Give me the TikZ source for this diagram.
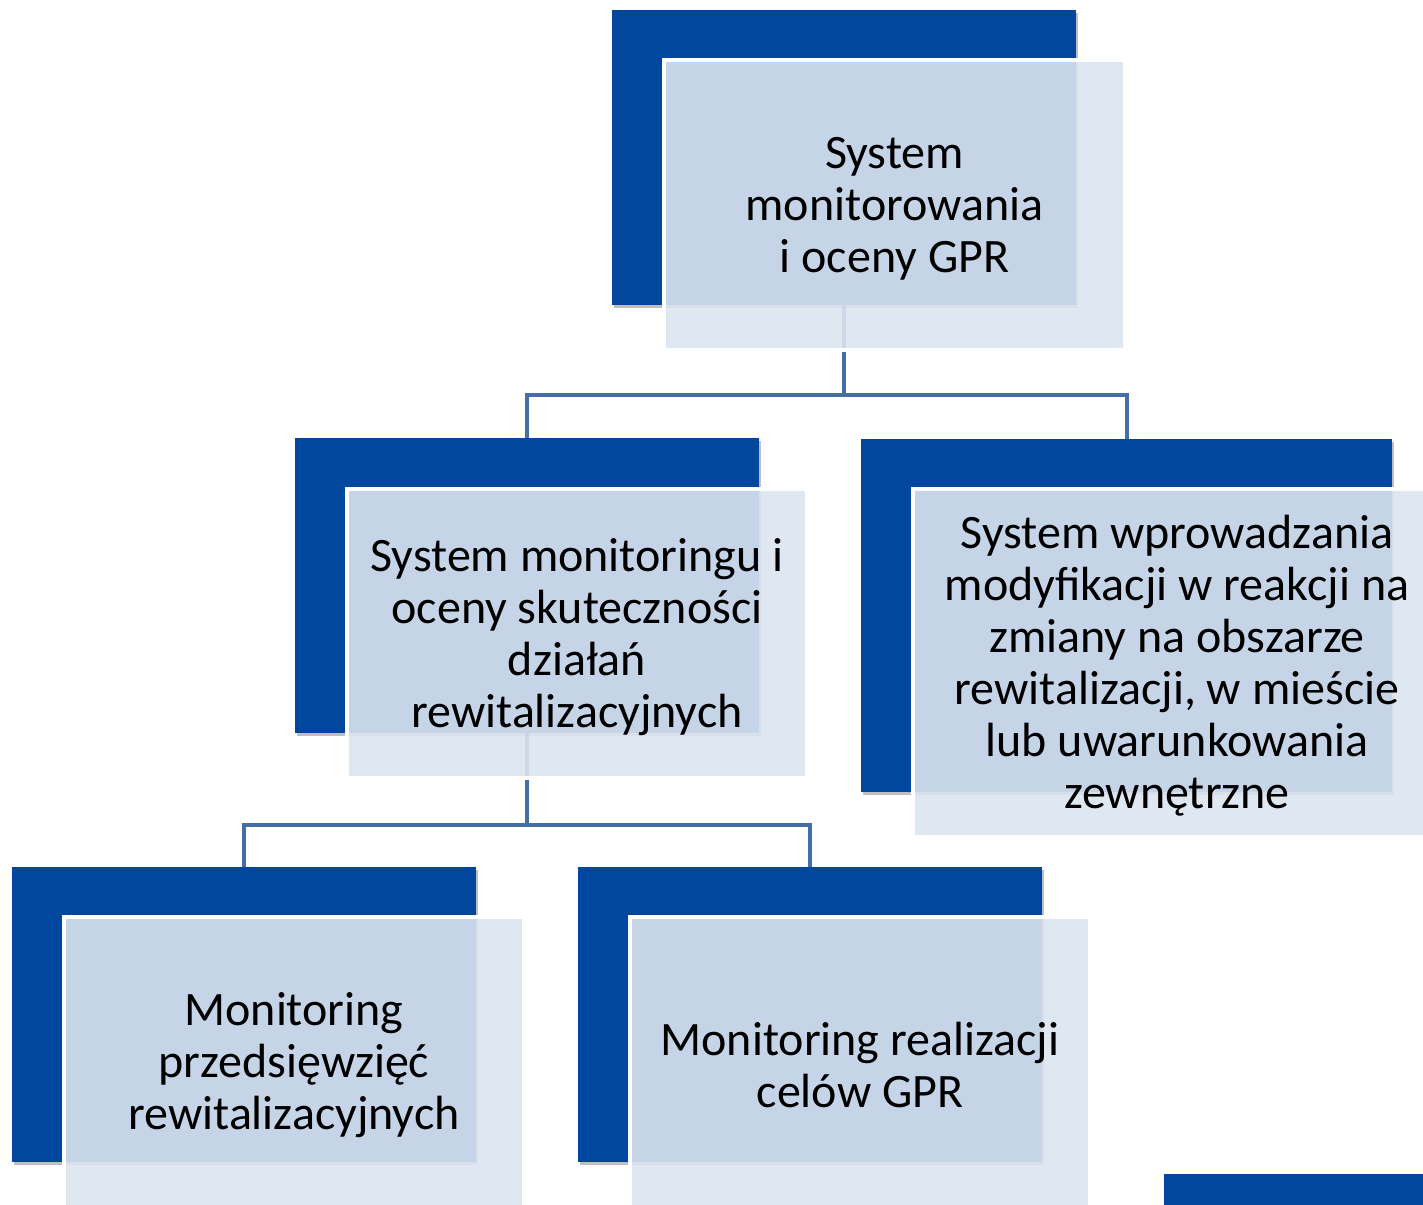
\documentclass[tikz,border=0pt]{standalone}
\usepackage{fontspec}
\setmainfont{Carlito}
\usetikzlibrary{shadows}
\definecolor{darkblue}{RGB}{0,71,157}
\definecolor{lightbox}{RGB}{220,228,240}
\definecolor{connblue}{RGB}{68,110,165}
\newcommand\firstln{\rule{0pt}{29.5pt}}
\pgfdeclarelayer{bg}
\pgfsetlayers{bg,main}
\begin{document}
\begin{tikzpicture}[x=0.75pt,y=-0.75pt,
  darkrect/.style={fill=darkblue, draw=none, inner sep=0pt, outer sep=0pt,
    drop shadow={shadow xshift=1.5pt, shadow yshift=-2pt, opacity=0.25, fill=black}},
  lightrect/.style={fill=lightbox, fill opacity=0.9, text opacity=1, draw=white,
    line width=3.5pt, inner sep=0pt, outer sep=0pt, align=center,
    font=\fontsize{36}{39}\selectfont},
  conn/.style={draw=connblue, line width=3pt}]
\useasboundingbox (0,0) rectangle (1423,1205);
\clip (0,0) rectangle (1423,1205);
% dark rectangles
\node[darkrect, minimum width=464*0.75pt, minimum height=295*0.75pt] (tD) at (844,157.5) {};
\node[darkrect, minimum width=464*0.75pt, minimum height=295*0.75pt] (mlD) at (527,585.5) {};
\node[darkrect, minimum width=531*0.75pt, minimum height=353*0.75pt] (mrD) at (1126.5,615.5) {};
\node[darkrect, minimum width=464*0.75pt, minimum height=295*0.75pt] (blD) at (244,1014.5) {};
\node[darkrect, minimum width=464*0.75pt, minimum height=295*0.75pt] (brD) at (810,1014.5) {};
\node[darkrect, minimum width=276*0.75pt, minimum height=66*0.75pt] (cD) at (1302,1207) {};
% connectors
\begin{pgfonlayer}{bg}
\draw[conn] (tD.south) -- ++(0,90) coordinate (tJ) -| (mlD.north);
\draw[conn] (tJ) -| (mrD.north);
\draw[conn] (mlD.south) -- ++(0,92) coordinate (mJ) -| (blD.north);
\draw[conn] (mJ) -| (brD.north);
\end{pgfonlayer}
% light boxes
\node[lightrect, minimum width=461*0.75pt, minimum height=290*0.75pt] (tL) at (894.5,205) {\firstln System\\monitorowania\\i oceny GPR};
\node[lightrect, minimum width=460*0.75pt, minimum height=289*0.75pt] (mlL) at (577,633.5) {\firstln System monitoringu i\\oceny skuteczności\\działań\\rewitalizacyjnych};
\node[lightrect, minimum width=528*0.75pt, minimum height=348*0.75pt] (mrL) at (1177,663) {\firstln System wprowadzania\\modyfikacji w reakcji na\\zmiany na obszarze\\rewitalizacji, w mieście\\lub uwarunkowania\\zewnętrzne};
\node[lightrect, minimum width=460*0.75pt, minimum height=290*0.75pt] (blL) at (294,1062) {\firstln Monitoring\\przedsięwzięć\\rewitalizacyjnych};
\node[lightrect, minimum width=460*0.75pt, minimum height=290*0.75pt] (brL) at (860,1062) {\firstln Monitoring realizacji\\celów GPR};
\end{tikzpicture}
\end{document}
